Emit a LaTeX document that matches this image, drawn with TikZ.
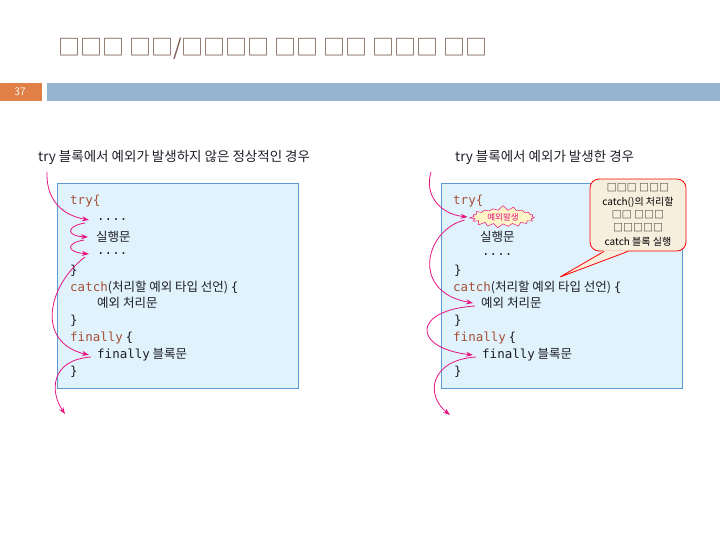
\documentclass[tikz,border=0pt]{standalone}
\usepackage{fontspec}
\setmainfont{Noto Sans CJK KR}
\newfontfamily\kr{Noto Sans CJK KR}
\newfontfamily\cd{DejaVu Sans Mono}
\usetikzlibrary{arrows.meta,shapes.symbols,positioning}
\definecolor{titlecol}{RGB}{122,94,84}
\definecolor{barblue}{RGB}{149,179,208}
\definecolor{barorange}{RGB}{224,128,70}
\definecolor{codebg}{RGB}{224,242,252}
\definecolor{codeline}{RGB}{91,155,213}
\definecolor{codetext}{RGB}{30,30,40}
\definecolor{keyword}{RGB}{165,80,55}
\definecolor{flowpink}{RGB}{230,20,130}
\definecolor{burstbg}{RGB}{255,246,200}
\definecolor{notebg}{RGB}{247,239,222}
\newcommand{\kw}[1]{{\cd\color{keyword}#1}}
\newcommand{\mono}[1]{{\cd #1}}

\begin{document}
\begin{tikzpicture}[x=1pt,y=-1pt,
  code/.style={anchor=west,inner sep=0pt,text=codetext,font=\kr\fontsize{12.5}{14}\selectfont},
  caption/.style={anchor=west,inner sep=0pt,text=codetext,font=\kr\fontsize{13.5}{15}\selectfont},
  codebox/.style={fill=codebg,draw=codeline,line width=0.8pt},
  flow/.style={draw=flowpink,line width=0.8pt,-{Stealth[length=7pt,width=5pt]}},
  burst/.style={shape=starburst,starburst points=19,starburst point height=5pt,random starburst=7,
    fill=burstbg,draw=flowpink,line width=0.5pt,text=flowpink,font=\kr\fontsize{8.5}{9}\selectfont,
    minimum width=68pt,minimum height=21pt,inner sep=1pt},
  note/.style={fill=notebg,draw=red,line width=0.8pt,rounded corners=9pt,align=center,
    minimum width=96pt,minimum height=72pt,inner sep=1pt,font=\kr\fontsize{10}{13.4}\selectfont}]
\useasboundingbox (0,0) rectangle (720,540);

\node[anchor=west,inner sep=0pt,text=titlecol,font=\kr\fontsize{22}{24}\selectfont] (title) at (58,49) {□□□ □□/□□□□ □□ □□ □□□ □□};
\fill[barorange] (0,83) rectangle (42,101);
\fill[barblue] (47,83) rectangle (720,101);
\node[text=white,font=\sffamily\fontsize{11.5}{12}\selectfont] (page) at (20,92) {37};

\node[caption] (capL) at (38,157) {try 블록에서 예외가 발생하지 않은 정상적인 경우};
\node[caption] (capR) at (455,157) {try 블록에서 예외가 발생한 경우};

\draw[codebox] (57,183) rectangle (298,388);
\draw[codebox] (441,183) rectangle (682,388);

\node[code] (tryL) at (70,201) {\kw{try\{}};
\node[code] (dotsL1) at (97,220) {\mono{....}};
\node[code] (runL) at (96,237) {실행문};
\node[code] (dotsL2) at (97,254) {\mono{....}};
\node[code] (closeL1) at (70,271) {\mono{\}}};
\node[code] (catchL) at (70,287) {\kw{catch}(처리할 예외 타입 선언) \mono{\{}};
\node[code] (handL) at (97,303) {예외 처리문};
\node[code] (closeL2) at (70,321) {\mono{\}}};
\node[code] (finL) at (70,338) {\kw{finally} \mono{\{}};
\node[code] (blockL) at (97,355) {\mono{finally} 블록문};
\node[code] (closeL3) at (70,372) {\mono{\}}};

\node[code] (tryR) at (453,201) {\kw{try\{}};
\node[burst] (exc) at (503,217) {예외발생};
\node[code] (runR) at (480,237) {실행문};
\node[code] (dotsR) at (482,255) {\mono{....}};
\node[code] (closeR1) at (454,271) {\mono{\}}};
\node[code] (catchR) at (453,287) {\kw{catch}(처리할 예외 타입 선언) \mono{\{}};
\node[code] (handR) at (481,303) {예외 처리문};
\node[code] (closeR2) at (454,321) {\mono{\}}};
\node[code] (finR) at (453,338) {\kw{finally} \mono{\{}};
\node[code] (blockR) at (482,355) {\mono{finally} 블록문};
\node[code] (closeR3) at (454,372) {\mono{\}}};

\coordinate (inL) at (47,172);
\coordinate (outL) at (65,414);
\draw[flow] (inL) .. controls (46,200) and (62,215) .. ([xshift=-8pt]dotsL1.west);
\draw[flow] ([xshift=-12pt,yshift=-3pt]dotsL1.west) .. controls (66,226) and (66,236) .. ([xshift=-8pt]runL.west);
\draw[flow] ([xshift=-12pt,yshift=-3pt]runL.west) .. controls (66,243) and (66,252) .. ([xshift=-8pt]dotsL2.west);
\draw[flow] ([xshift=-12pt,yshift=-3pt]dotsL2.west) .. controls (48,285) and (35,342) .. ([xshift=-8pt]blockL.west);
\draw[flow] ([xshift=-6pt,yshift=-2pt]blockL.west) .. controls (50,360) and (50,392) .. (outL);

\coordinate (inR) at (431,172);
\coordinate (outR) at (450,415);
\draw[flow] (inR) .. controls (424,195) and (440,214) .. ([xshift=-4pt]exc.west);
\draw[flow] ([xshift=-7pt,yshift=-3pt]exc.west) .. controls (425,230) and (410,292) .. ([xshift=-8pt]handR.west);
\draw[flow] ([xshift=-6pt,yshift=-3pt]handR.west) .. controls (412,310) and (412,348) .. ([xshift=-9pt]blockR.west);
\draw[flow] ([xshift=-6pt,yshift=-2pt]blockR.west) .. controls (430,360) and (425,395) .. (outR);

\node[note] (note) at (638,215) {□□□ □□□\\catch()의 처리할\\□□ □□□\\□□□□□\\catch 블록 실행};
\coordinate (tip) at (560,277);
\fill[notebg] ([xshift=-34pt,yshift=1pt]note.south) -- (tip) -- ([xshift=-10pt,yshift=1pt]note.south) -- cycle;
\draw[red,line width=0.8pt] ([xshift=-34pt]note.south) -- (tip) -- ([xshift=-10pt]note.south);
\end{tikzpicture}
\end{document}
